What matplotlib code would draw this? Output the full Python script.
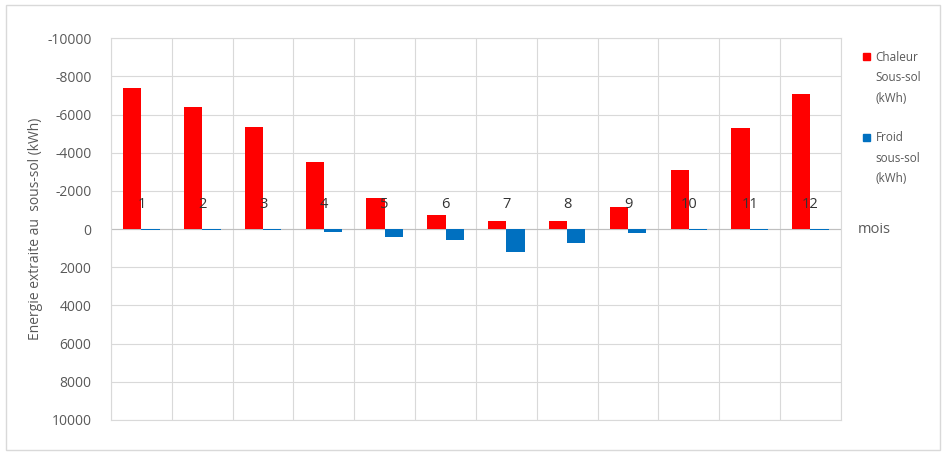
import matplotlib.pyplot as plt
import numpy as np

plt.rcParams["font.family"] = ["Open Sans", "DejaVu Sans"]

months = ["1", "2", "3", "4", "5", "6", "7", "8", "9", "10", "11", "12"]
chaleur = [-7400, -6400, -5350, -3500, -1650, -730, -400, -400, -1150, -3100, -5300, -7100]
froid = [40, 40, 60, 150, 420, 580, 1200, 750, 220, 60, 40, 40]
y_ticks = [-10000, -8000, -6000, -4000, -2000, 0, 2000, 4000, 6000, 8000, 10000]
series_labels = ["Chaleur\nSous-sol\n(kWh)", "Froid\nsous-sol\n(kWh)"]

red = "#ff0000"
blue = "#0070c0"
grid_col = "#d9d9d9"
text_col = "#595959"

fig = plt.figure(figsize=(9.49, 4.55), dpi=100)
ax = fig.add_axes([0.117, 0.077, 0.769, 0.839])

x = np.arange(len(months))
w = 0.3
ax.bar(x - w / 2, chaleur, width=w, color=red, zorder=3)
ax.bar(x + w / 2, froid, width=w, color=blue, zorder=3)

ax.set_xlim(-0.5, len(months) - 0.5)
ax.set_ylim(10000, -10000)
ax.set_yticks(y_ticks)
ax.set_yticklabels([str(v) for v in y_ticks])
ax.tick_params(axis="y", length=0, pad=14, labelsize=10, labelcolor=text_col)

# vertical grid at category boundaries
ax.set_xticks(np.arange(-0.5, len(months)), minor=True)
ax.set_xticks([])
ax.grid(True, which="minor", axis="x", color=grid_col, lw=0.8, zorder=0)
ax.grid(True, which="major", axis="y", color=grid_col, lw=0.8, zorder=0)
ax.tick_params(axis="x", which="both", length=0)
ax.axhline(0, color="#bfbfbf", lw=0.8, zorder=2)
for s in ax.spines.values():
    s.set_color(grid_col)
    s.set_linewidth(0.8)

# month labels sit just above the zero line
for xi, m in zip(x, months):
    ax.annotate(m, (xi, 0), xytext=(0, 18), textcoords="offset points",
                ha="center", va="center", fontsize=10.5, color="#333333", zorder=4)

ax.annotate("mois", (1, 0), xycoords=("axes fraction", "data"), xytext=(12, 0),
            textcoords="offset points", ha="left", va="center", fontsize=10.5, color=text_col)

ax.set_ylabel("Energie extraite au  sous-sol (kWh)", fontsize=10, color=text_col, labelpad=3)

# legend: small square next to the first line of each label
for (col, lab, ytop) in [(red, series_labels[0], 0.877), (blue, series_labels[1], 0.700)]:
    fig.patches.append(plt.Rectangle((0.9095, ytop - 0.009), 0.0075, 0.0155,
                                     transform=fig.transFigure, color=col))
    fig.text(0.9225, ytop + 0.012, lab, ha="left", va="top", fontsize=8.5,
             color=text_col, linespacing=1.75)

# light frame round the whole chart
fig.patches.append(plt.Rectangle((0.006, 0.01), 0.985, 0.98, transform=fig.transFigure,
                                 fill=False, edgecolor="#d9d9d9", lw=1))

fig.savefig("out.png", dpi=100)
